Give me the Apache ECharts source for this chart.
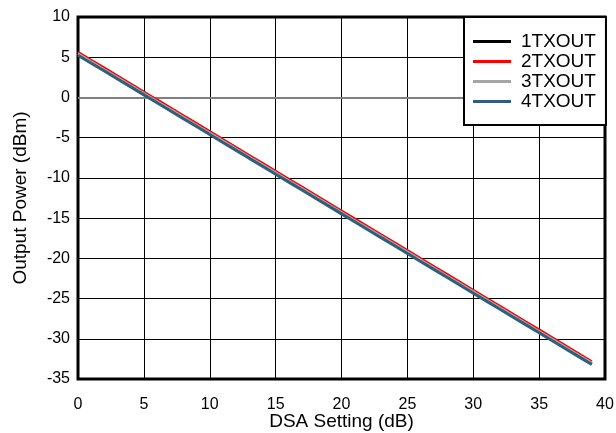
<!DOCTYPE html>
<html><head><meta charset="utf-8">
<script src="https://cdn.jsdelivr.net/npm/echarts@6/dist/echarts.min.js"></script>
<style>html,body{margin:0;padding:0;background:#fff}#c{width:616px;height:433px}</style>
</head><body><div id="c"></div>
<script>
const dsa = [0,1,2,3,4,5,6,7,8,9,10,11,12,13,14,15,16,17,18,19,20,21,22,23,24,25,26,27,28,29,30,31,32,33,34,35,36,37,38,39];
const tx1 = [5.35,4.36,3.38,2.39,1.41,0.42,-0.57,-1.55,-2.54,-3.52,-4.51,-5.50,-6.48,-7.47,-8.45,-9.44,-10.43,-11.41,-12.40,-13.38,-14.37,-15.36,-16.34,-17.33,-18.31,-19.30,-20.29,-21.27,-22.26,-23.24,-24.23,-25.22,-26.20,-27.19,-28.17,-29.16,-30.15,-31.13,-32.12,-33.10];
const tx2 = [5.65,4.65,3.67,2.68,1.70,0.71,-0.28,-1.26,-2.25,-3.23,-4.22,-5.21,-6.19,-7.18,-8.16,-9.15,-10.14,-11.12,-12.11,-13.09,-14.08,-15.07,-16.05,-17.04,-18.02,-19.01,-20.00,-20.98,-21.97,-22.95,-23.94,-24.93,-25.91,-26.90,-27.88,-28.87,-29.86,-30.84,-31.83,-32.82];
const tx3 = [5.45,4.46,3.48,2.49,1.51,0.52,-0.47,-1.45,-2.44,-3.42,-4.41,-5.40,-6.38,-7.37,-8.35,-9.34,-10.33,-11.31,-12.30,-13.28,-14.27,-15.26,-16.24,-17.23,-18.21,-19.20,-20.19,-21.17,-22.16,-23.14,-24.13,-25.12,-26.10,-27.09,-28.07,-29.06,-30.05,-31.03,-32.02,-33.00];
const tx4 = [5.25,4.26,3.28,2.29,1.31,0.32,-0.67,-1.65,-2.64,-3.62,-4.61,-5.60,-6.58,-7.57,-8.55,-9.54,-10.53,-11.51,-12.50,-13.48,-14.47,-15.46,-16.44,-17.43,-18.41,-19.40,-20.39,-21.37,-22.36,-23.34,-24.33,-25.32,-26.30,-27.29,-28.27,-29.26,-30.25,-31.23,-32.22,-33.20];
const names = ['1TXOUT','2TXOUT','3TXOUT','4TXOUT'];
const colors = ['#000000','#ff0000','#a6a6a6','#2e5f7f'];
const seriesVals = [tx1, tx2, tx3, tx4];
const font = 'Liberation Sans, Arial, sans-serif';
const chart = echarts.init(document.getElementById('c'), null, {renderer:'canvas'});
const series = seriesVals.map((v,i)=>({
  name: names[i], type:'line', data: dsa.map((x,j)=>[x,v[j]]),
  showSymbol:false, symbol:'none', lineStyle:{color:colors[i], width: i===3?3:2.5}, itemStyle:{color:colors[i]},
  z: 3+i, animation:false,
  markLine: i===0 ? {silent:true, symbol:'none', label:{show:false}, lineStyle:{color:'#808080', width:2, type:'solid'}, data:[{yAxis:0}], z:2} : undefined
}));
chart.setOption({
  animation:false,
  grid:{left:78, right:11, top:17, bottom:54, show:true, borderColor:'#000', borderWidth:3, containLabel:false, outerBoundsMode:'none'},
  legend:{
    data: names.map((n,i)=>({name:n, itemStyle:{color:colors[i]}})),
    orient:'vertical', left:464, top:17, icon:'rect',
    itemWidth:38, itemHeight:3, itemGap:1,
    backgroundColor:'#fff', borderColor:'#000', borderWidth:2,
    padding:[15,10,14,9],
    textStyle:{fontFamily:font, fontSize:19, lineHeight:18, color:'#000', padding:[0,0,0,5]}
  },
  xAxis:{type:'value', min:0, max:40, interval:5,
    name:'DSA Setting (dB)', nameLocation:'middle', nameGap:33, nameMoveOverlap:false,
    nameTextStyle:{fontFamily:font, fontSize:19, color:'#000'},
    axisLine:{show:false}, axisTick:{show:false},
    axisLabel:{fontFamily:font, fontSize:16, color:'#000', margin:18},
    splitLine:{show:true, lineStyle:{color:'#000', width:1}}},
  yAxis:{type:'value', min:-35, max:10, interval:5,
    name:'Output Power (dBm)', nameLocation:'middle', nameGap:48, nameRotate:90, nameMoveOverlap:false,
    nameTextStyle:{fontFamily:font, fontSize:19, color:'#000'},
    axisLine:{show:false}, axisTick:{show:false},
    axisLabel:{fontFamily:font, fontSize:16, color:'#000', margin:8},
    splitLine:{show:true, lineStyle:{color:'#000', width:1}}},
  series: series
});
</script></body></html>
